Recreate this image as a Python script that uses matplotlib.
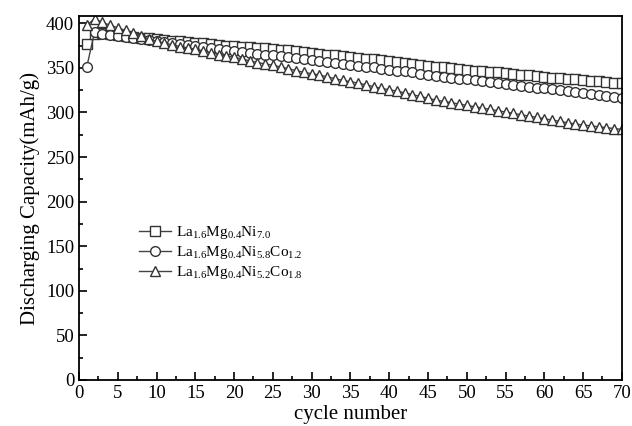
import numpy as np
import matplotlib
matplotlib.use("Agg")
import matplotlib.pyplot as plt
from matplotlib.ticker import MultipleLocator

plt.rcParams['font.family'] = ['Liberation Serif', 'DejaVu Serif']
plt.rcParams['mathtext.fontset'] = 'custom'
plt.rcParams['mathtext.rm'] = 'Liberation Serif'
plt.rcParams['mathtext.it'] = 'Liberation Serif:italic'

# cycle numbers and discharge capacities (mAh/g)
cycles = np.arange(1, 71)

cap_ni70 = [377, 388, 389, 388, 387, 386, 385, 384, 383, 382,
            381, 380.5, 380, 379, 378, 377.5, 377, 376, 375, 374.5,
            374, 373, 372.5, 372, 371, 370.5, 370, 369, 368, 367,
            366, 365, 364, 363.5, 362.5, 361.5, 360.5, 359.5, 358.5, 357.5,
            356.5, 355.5, 354.5, 353, 352, 351, 350.5, 349.5, 349, 348,
            347, 346.5, 345.5, 345, 344, 343, 342.5, 341.5, 341, 340,
            339, 338.5, 337.5, 337, 336, 335.5, 335, 334, 333.5, 333]

cap_co12 = [351, 390, 388.5, 387, 386, 385, 384, 382.5, 381, 380,
            379, 378, 377, 376, 375, 374, 372.5, 371.5, 370.5, 369.5,
            368, 367, 366, 365, 364, 363, 362, 361, 360, 359,
            358, 357, 355.5, 354.5, 353.5, 352.5, 351.5, 350.5, 349, 348,
            347, 346, 345, 343.5, 342.5, 341, 340, 339, 338, 337,
            336, 335, 334, 333, 332, 331, 330, 329, 328, 327,
            326, 325, 324, 323, 322, 320.5, 319.5, 318.5, 317, 316]

cap_co18 = [398, 405, 401, 398, 395, 392, 389, 386, 382, 380,
            378, 376, 374, 372.5, 371, 369, 367, 365, 363.5, 362,
            360, 358, 356, 354.5, 353, 351, 349, 347, 345, 343.5,
            342, 340, 338, 336, 334.5, 333, 331, 329, 327, 325.5,
            324, 322, 320, 318, 316, 314, 312.5, 311, 309.5, 308,
            306.5, 305, 303.5, 302, 300.5, 299, 297.5, 296, 294.5, 293,
            291.5, 290, 288.5, 287, 286, 285, 284, 283, 282, 281]

labels = [r'La$_{1.6}$Mg$_{0.4}$Ni$_{7.0}$',
          r'La$_{1.6}$Mg$_{0.4}$Ni$_{5.8}$Co$_{1.2}$',
          r'La$_{1.6}$Mg$_{0.4}$Ni$_{5.2}$Co$_{1.8}$']

fig = plt.figure(figsize=(6.32, 4.26), dpi=100)
ax = fig.add_axes([0.125, 0.108, 0.859, 0.854])

style = dict(color='#444444', lw=1.0, markerfacecolor='white',
             markeredgecolor='#333333', markeredgewidth=1.0)
ax.plot(cycles, cap_ni70, marker='s', markersize=6.5, label=labels[0], **style)
ax.plot(cycles, cap_co12, marker='o', markersize=7, label=labels[1], **style)
ax.plot(cycles, cap_co18, marker='^', markersize=7.5, label=labels[2], **style)

ax.set_xlim(0, 70)
ax.set_ylim(0, 408)
ax.xaxis.set_major_locator(MultipleLocator(5))
ax.xaxis.set_minor_locator(MultipleLocator(2.5))
ax.yaxis.set_major_locator(MultipleLocator(50))
ax.yaxis.set_minor_locator(MultipleLocator(25))
ax.tick_params(which='both', direction='in', top=False, right=False,
               labelsize=13.5, width=1.2)
ax.tick_params(which='major', length=6)
ax.tick_params(which='minor', length=3)
for s in ax.spines.values():
    s.set_linewidth(1.3)

ax.set_xlabel('cycle number', fontsize=15, labelpad=2)
ax.set_ylabel('Discharging Capacity(mAh/g)', fontsize=15, labelpad=4)

ax.legend(loc='upper left', bbox_to_anchor=(0.10, 0.445), frameon=False,
          fontsize=11, handlelength=2.1, handletextpad=0.3,
          labelspacing=0.2, borderaxespad=0)

fig.savefig('out.png', dpi=100)
